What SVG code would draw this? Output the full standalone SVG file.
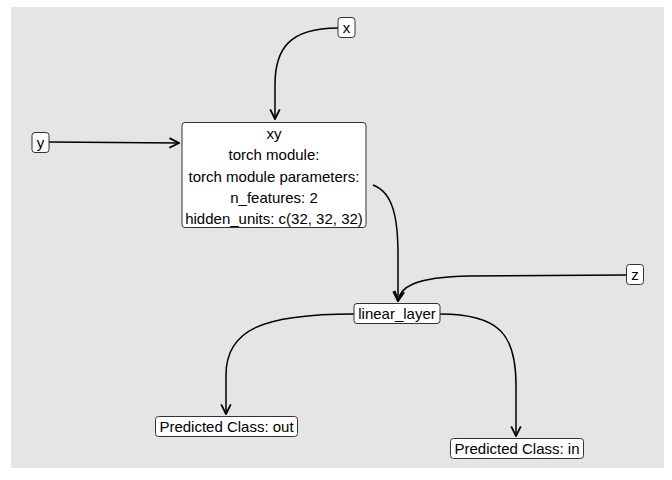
<svg xmlns="http://www.w3.org/2000/svg" width="672" height="480" viewBox="0 0 672 480">
<defs>
<style>
.node rect{fill:#ffffff;stroke:#333333;stroke-width:1;}
.node text{font-family:"Liberation Sans",Arial,sans-serif;font-size:15px;fill:#000000;text-anchor:middle;}
.edge{fill:none;stroke:#000000;stroke-width:1.5;marker-end:url(#arr);}
</style>
<marker id="arr" markerUnits="userSpaceOnUse" markerWidth="12" markerHeight="12" viewBox="0 0 10 10" refX="9" refY="5" orient="auto">
<path d="M1,1 L9,5 L1,9" fill="none" stroke="#000000" stroke-width="1.5"/>
</marker>
</defs>
<rect x="0" y="0" width="672" height="480" fill="#ffffff"/>
<rect x="11" y="7" width="653" height="461" fill="#e5e5e5"/>
<g id="connectors">
<path class="edge" d="M338,28 C288,28 275,50 275,85 L275,119"/>
<path class="edge" d="M49,142 L179,143"/>
<path class="edge" d="M373,185 C392,192 398,215 398,255 L398,301"/>
<path class="edge" d="M626,275 L470,276 C412,277 400,288 398,301"/>
<path class="edge" d="M354,314 C262,314 226,330 226,375 L226,414"/>
<path class="edge" d="M440,314 C500,314 516,335 516,385 L516,436"/>
</g>
<g id="node-x" class="node"><rect x="338" y="17.5" width="17" height="20" rx="3"/><text x="346.5" y="33">x</text></g>
<g id="node-y" class="node"><rect x="32" y="132.5" width="17" height="20" rx="3"/><text x="40.5" y="148">y</text></g>
<g id="node-xy" class="node"><rect x="182" y="122.5" width="184" height="105" rx="3"/>
<text x="274" y="138.5">xy</text>
<text x="274" y="160">torch module:</text>
<text x="274" y="181.5">torch module parameters:</text>
<text x="274" y="202.5">n_features: 2</text>
<text x="274" y="223.5">hidden_units: c(32, 32, 32)</text>
</g>
<g id="node-z" class="node"><rect x="626.5" y="264.5" width="17" height="20" rx="3"/><text x="635" y="280">z</text></g>
<g id="node-linear_layer" class="node"><rect x="354" y="303.5" width="86" height="20" rx="3"/><text x="397" y="319">linear_layer</text></g>
<g id="node-out" class="node"><rect x="155.5" y="416.5" width="142" height="20" rx="3"/><text x="226.5" y="432">Predicted Class: out</text></g>
<g id="node-in" class="node"><rect x="450.5" y="438.5" width="133" height="20" rx="3"/><text x="517" y="454">Predicted Class: in</text></g>
</svg>
